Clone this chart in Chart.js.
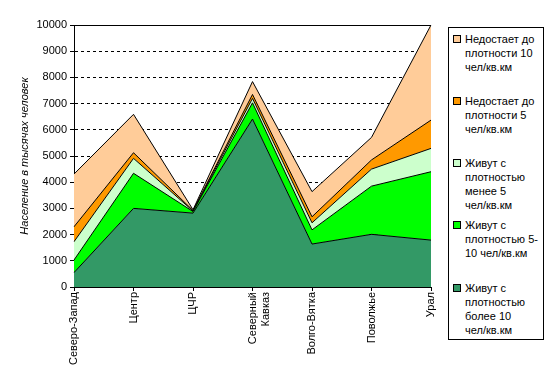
<!DOCTYPE html>
<html>
<head>
  <meta charset="utf-8">
  <script src="https://cdn.jsdelivr.net/npm/chart.js"></script>
  <title>Население по плотности</title>
  <style>
    body { margin: 0; background: #fff; }
    #wrap { position: relative; width: 550px; height: 375px; }
    #legend {
      position: absolute; left: 448px; top: 27px; width: 96px; height: 313px;
      border: 1px solid #000; box-sizing: border-box; background: #fff;
      font-family: "Liberation Sans", Arial, sans-serif; font-size: 11px; color: #000;
    }
    .item { position: absolute; left: 4px; line-height: 14px; }
    .box { position: absolute; left: 0; top: 3px; width: 6px; height: 6px; border: 1px solid #000; }
    .txt { margin-left: 12px; white-space: nowrap; }
  </style>
</head>
<body>
  <div id="wrap">
    <canvas id="chart" width="550" height="375"></canvas>
    <div id="legend"></div>
  </div>

  <script>
    // regions along the x axis
    const regions = ['Северо-Запад', 'Центр', 'ЦЧР', ['Северный', 'Кавказ'], 'Волго-Вятка', 'Поволжье', 'Урал'];

    // population, thousands (stacked bottom -> top)
    const denseOver10 = [550, 3000, 2820, 6410, 1640, 2010, 1790];
    const dense5to10 = [480, 1340, 60, 620, 540, 1840, 2610];
    const denseUnder5 = [700, 570, 20, 170, 270, 650, 890];
    const lackTo5 = [570, 215, 20, 150, 230, 350, 1080];
    const lackTo10 = [2010, 1465, 30, 490, 960, 860, 3630];

    const yTicks = [0, 1000, 2000, 3000, 4000, 5000, 6000, 7000, 8000, 9000, 10000];

    const seriesNames = [
      ['Живут с', 'плотностью', 'более 10', 'чел/кв.км'],
      ['Живут с', 'плотностью 5-', '10 чел/кв.км'],
      ['Живут с', 'плотностью', 'менее 5', 'чел/кв.км'],
      ['Недостает до', 'плотности 5', 'чел/кв.км'],
      ['Недостает до', 'плотности 10', 'чел/кв.км']
    ];
    const seriesData = [denseOver10, dense5to10, denseUnder5, lackTo5, lackTo10];
    const colors = ['#339966', '#00FF00', '#CCFFCC', '#FF9900', '#FFCC99'];

    const font = { family: '"Liberation Sans", Arial, sans-serif', size: 11 };

    const datasets = seriesData.map((d, i) => ({
      label: seriesNames[i].join(' '),
      data: d,
      backgroundColor: colors[i],
      borderColor: '#000',
      borderWidth: 1,
      pointRadius: 0,
      tension: 0,
      fill: i === 0 ? 'origin' : '-1'
    }));

    // solid line along the top of the plot
    const topLine = {
      id: 'topLine',
      afterDatasetsDraw(chart) {
        const { ctx, chartArea } = chart;
        ctx.save();
        ctx.strokeStyle = '#000';
        ctx.lineWidth = 1;
        ctx.beginPath();
        ctx.moveTo(chartArea.left, Math.round(chartArea.top) + 0.5);
        ctx.lineTo(chartArea.right, Math.round(chartArea.top) + 0.5);
        ctx.stroke();
        ctx.restore();
      }
    };

    new Chart(document.getElementById('chart'), {
      type: 'line',
      data: { labels: regions, datasets: datasets },
      plugins: [topLine],
      options: {
        responsive: false,
        animation: false,
        layout: { padding: { top: 25, right: 119, left: 0, bottom: 0 } },
        plugins: { legend: { display: false }, tooltip: { enabled: false } },
        scales: {
          x: {
            offset: false,
            afterFit: s => { s.height = 88; },
            grid: { drawOnChartArea: false, color: '#000', tickLength: 4 },
            border: { color: '#000' },
            ticks: { color: '#000', font: font, minRotation: 90, maxRotation: 90, padding: 1, autoSkip: false }
          },
          y: {
            stacked: true,
            min: 0,
            max: 10000,
            afterFit: s => { s.width = 74; },
            afterBuildTicks: s => { s.ticks = yTicks.map(v => ({ value: v })); },
            grid: { color: '#000', tickLength: 4, tickBorderDash: [] },
            border: { color: '#000', dash: [3, 3] },
            ticks: { color: '#000', font: font, padding: 3, callback: v => String(v) },
            title: {
              display: true,
              text: 'Население в тысячах человек',
              color: '#000',
              font: { family: font.family, size: 11, style: 'italic' },
              padding: { top: 18, bottom: 0 }
            }
          }
        }
      }
    });

    // legend, top entry first
    const legend = document.getElementById('legend');
    const tops = [4, 66, 128, 190, 253];
    for (let i = 0; i < seriesNames.length; i++) {
      const s = seriesNames.length - 1 - i;
      const item = document.createElement('div');
      item.className = 'item';
      item.style.top = tops[i] + 'px';
      item.innerHTML = '<div class="box" style="background:' + colors[s] + '"></div>' +
        '<div class="txt">' + seriesNames[s].join('<br>') + '</div>';
      legend.appendChild(item);
    }
  </script>
</body>
</html>
